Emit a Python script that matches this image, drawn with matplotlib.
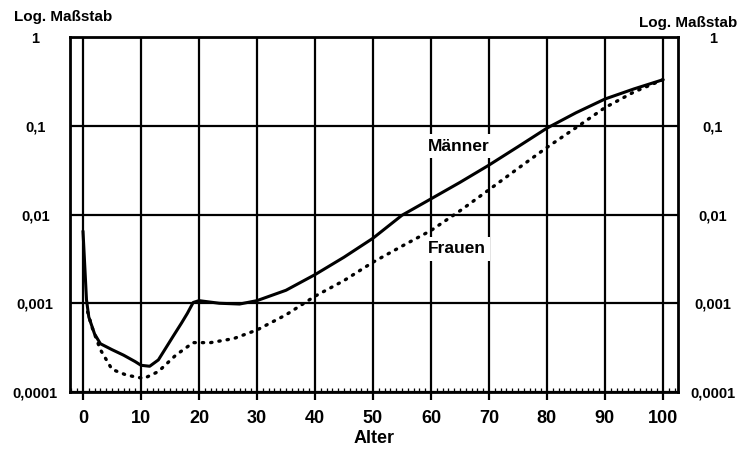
import numpy as np
import matplotlib
matplotlib.use("Agg")
import matplotlib.pyplot as plt
from matplotlib.ticker import FixedLocator, NullFormatter

plt.rcParams['font.family'] = ['Liberation Sans', 'DejaVu Sans']

# Sterbewahrscheinlichkeit nach Alter (log. Massstab)
ages_m = [0, 0.6, 1, 2, 3, 5, 7, 9, 10, 11.5, 13, 14.5, 15.5, 17, 18, 19, 20,
          23.5, 27, 30, 35, 40, 45, 50, 55, 60, 65, 70, 75, 80, 85, 90, 95, 100]
men = [0.0065, 0.0011, 0.0007, 0.00045, 0.00035, 0.0003, 0.00026, 0.00022,
       0.0002, 0.000195, 0.00023, 0.00033, 0.00042, 0.0006, 0.00077, 0.00102,
       0.00107, 0.001, 0.00098, 0.00107, 0.0014, 0.0021, 0.0033, 0.0054,
       0.0098, 0.015, 0.023, 0.036, 0.058, 0.094, 0.14, 0.20, 0.26, 0.33]

ages_f = [0.8, 1.5, 3, 5, 7.5, 10.5, 13, 16, 19, 22, 26, 30, 35, 40, 45, 50,
          55, 60, 65, 70, 75, 80, 85, 90, 95, 100]
women = [0.0008, 0.00055, 0.0003, 0.00018, 0.000155, 0.000142, 0.00017,
         0.00026, 0.00036, 0.00036, 0.0004, 0.0005, 0.00074, 0.0012, 0.0018,
         0.0029, 0.0044, 0.0066, 0.011, 0.019, 0.033, 0.057, 0.095, 0.16,
         0.24, 0.33]

x_ticks = list(range(0, 101, 10))
y_ticks = [1e-4, 1e-3, 1e-2, 1e-1, 1]
y_labels = ["0,0001", "0,001", "0,01", "0,1", "1"]

fig = plt.figure(figsize=(7.44, 4.54), dpi=100)
ax = fig.add_axes([70 / 744, 1 - 392 / 454, 608 / 744, 355 / 454])

ax.plot(ages_m, men, color="black", lw=2.2, solid_capstyle="round")
ax.plot(ages_f, women, color="black", lw=2.4, linestyle=(0, (0.4, 2.1)),
        dash_capstyle="round")

ax.set_yscale("log")
ax.set_xlim(-2.24, 102.6)
ax.set_ylim(1e-4, 1)

ax.set_xticks(x_ticks)
ax.set_xticklabels([str(v) for v in x_ticks], fontsize=13, fontweight="bold")
ax.xaxis.set_minor_locator(FixedLocator(np.arange(-2, 103, 1)))
ax.xaxis.set_minor_formatter(NullFormatter())
ax.tick_params(axis="x", which="major", direction="out", length=6, width=1.6,
               pad=7)
ax.tick_params(axis="x", which="minor", direction="in", length=3, width=0.9,
               top=False)

ax.set_yticks(y_ticks)
ax.set_yticklabels(y_labels, fontsize=10.5, fontweight="bold")
ax.yaxis.set_minor_locator(FixedLocator([]))
ax.tick_params(axis="y", which="major", length=0, left=False, right=False,
               labelleft=True, labelright=True, pad=25)
for t in ax.yaxis.get_major_ticks():
    t.label1.set_horizontalalignment("center")
    t.label2.set_horizontalalignment("center")

ax.grid(True, which="major", color="black", lw=1.6)
for s in ax.spines.values():
    s.set_linewidth(2.0)

ax.set_xlabel("Alter", fontsize=13, fontweight="bold", labelpad=2)

ax.text(59.4, 0.059, "Männer", fontsize=12.5, fontweight="bold",
        va="center", ha="left",
        bbox=dict(facecolor="white", edgecolor="none", pad=3))
ax.text(59.4, 0.0041, "Frauen", fontsize=12.5, fontweight="bold",
        va="center", ha="left",
        bbox=dict(facecolor="white", edgecolor="none", pad=3))

fig.text(63 / 744, 1 - 17 / 454, "Log. Maßstab", fontsize=11,
         fontweight="bold", ha="center", va="center")
fig.text(688 / 744, 1 - 23 / 454, "Log. Maßstab", fontsize=11,
         fontweight="bold", ha="center", va="center")

fig.savefig("out.png", dpi=100, facecolor="white")
